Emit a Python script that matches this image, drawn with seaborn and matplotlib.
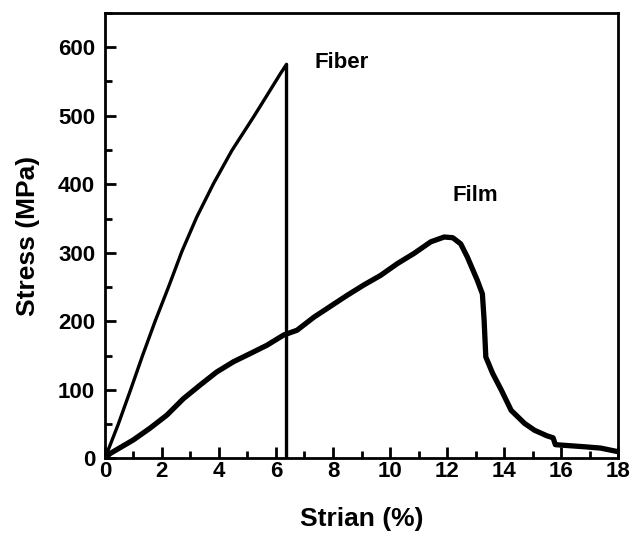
import matplotlib
matplotlib.use("Agg")
import matplotlib.pyplot as plt
import pandas as pd
import seaborn as sns
from matplotlib.ticker import MultipleLocator

# Fiber: stress-strain, breaks at ~6.4 % strain
fiber_strain = [0.0, 0.47, 0.90, 1.32, 1.76, 2.23, 2.70, 3.22, 3.81,
                4.45, 5.21, 5.57, 6.15, 6.37, 6.37]
fiber_stress = [0, 50, 100, 150, 200, 250, 302, 352, 401,
                449, 498, 522, 561, 575, 0]

# Film (centre line)
film_strain = [0.0, 0.18, 1.0, 1.58, 2.17, 2.75, 3.34, 3.92, 4.51, 5.1,
               5.68, 6.27, 6.74, 7.33, 8.5, 9.08, 9.67, 10.25, 10.84, 11.43,
               11.9, 12.2, 12.48, 12.71, 13.06, 13.24, 13.3, 13.36, 13.6, 13.9,
               14.25, 14.72, 15.07, 15.5, 15.72, 15.8, 16.13, 16.8, 17.39, 17.97]
film_stress = [0, 7, 27, 44, 63, 87, 107, 126, 141, 153,
               165, 180, 187, 206, 238, 253, 267, 284, 299, 316,
               323, 322, 313, 294, 260, 240, 202, 148, 124, 100,
               70, 51, 41, 33, 30, 20, 19, 17, 15, 10]

fiber = pd.DataFrame({"strain": fiber_strain, "stress": fiber_stress})
film = pd.DataFrame({"strain": film_strain, "stress": film_stress})

sns.set_style("ticks")
plt.rcParams["font.family"] = ["Liberation Sans", "DejaVu Sans"]
plt.rcParams["font.weight"] = "bold"
plt.rcParams["text.color"] = "black"
plt.rcParams["axes.labelcolor"] = "black"

fig = plt.figure(figsize=(6.32, 5.38), dpi=100)
ax = fig.add_axes([0.166, 0.148, 0.812, 0.828])

sns.lineplot(data=fiber, x="strain", y="stress", sort=False, estimator=None,
             color="black", lw=2.4, ax=ax)
sns.lineplot(data=film, x="strain", y="stress", sort=False, estimator=None,
             color="black", lw=3.8, ax=ax)

ax.text(7.35, 578, "Fiber", fontsize=16, fontweight="bold", va="center")
ax.text(12.98, 384, "Film", fontsize=16, fontweight="bold", va="center", ha="center")

ax.set_xlim(0, 18)
ax.set_ylim(0, 650)
ax.xaxis.set_major_locator(MultipleLocator(2))
ax.xaxis.set_minor_locator(MultipleLocator(1))
ax.yaxis.set_major_locator(MultipleLocator(100))
ax.yaxis.set_minor_locator(MultipleLocator(50))
ax.tick_params(which="both", direction="in", width=2, top=False, right=False,
               labelsize=16, colors="black")
ax.tick_params(which="major", length=8)
ax.tick_params(which="minor", length=5)
ax.tick_params(axis="x", which="major", pad=2)
ax.tick_params(axis="y", which="major", pad=7)
for lab in ax.get_xticklabels() + ax.get_yticklabels():
    lab.set_fontweight("bold")
for s in ax.spines.values():
    s.set_linewidth(2)
    s.set_color("black")

ax.set_xlabel("Strian (%)", fontsize=19, fontweight="bold", labelpad=18)
ax.set_ylabel("Stress (MPa)", fontsize=19, fontweight="bold", labelpad=13)

fig.savefig("out.png", dpi=100)
